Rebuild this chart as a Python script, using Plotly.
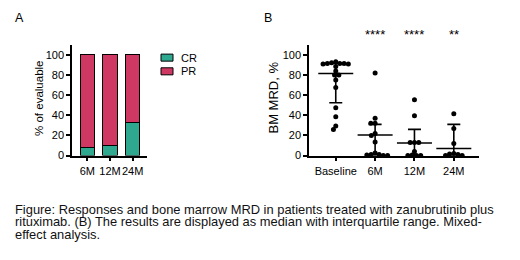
import plotly.graph_objects as go

# ---------------- data ----------------
# Panel A: response (% of evaluable)
timepoints_a = ["6M", "12M", "24M"]
cr_pct = [8, 10.5, 33]
pr_pct = [92, 89.5, 67]

# Panel B: BM MRD (%)
groups_b = ["Baseline", "6M", "12M", "24M"]
mrd_baseline = [93, 92, 91.5, 91.5, 91.5, 91, 91, 88.5, 84, 80, 80, 75, 67.5, 47.5, 38.5, 29.5, 26]
mrd_6m = [82, 37, 32, 32, 22, 20, 13.5, 2.5, 1, 1, 0.5, 0, 0]
mrd_12m = [55.5, 39.5, 13, 13, 13, 4, 0.5, 0, 0, 0]
mrd_24m = [41.5, 27, 12, 2, 1.5, 1, 0, 0]
median_b = [81.5, 20.5, 12.5, 7]
q1_b = [52.5, 0, 0, 0]
q3_b = [91.5, 31, 26, 31]
stars_b = ["", "****", "****", "**"]

yticks = [0, 20, 40, 60, 80, 100]

caption_lines = [
    "Figure: Responses and bone marrow MRD in patients treated with zanubrutinib plus",
    "rituximab. (B) The results are displayed as median with interquartile range. Mixed-",
    "effect analysis.",
]

# ---------------- layout geometry (px in a 520x260 canvas) ----------------
W, H = 520, 260
FONT = "Liberation Sans, Arial, sans-serif"
TEAL = "#2EA88F"
CRIMSON = "#CF3862"


def px(x):
    return x / W


def py(y):
    return 1 - y / H


plot_top, plot_bot = 46.3, 159.3
y_range = [0, 109.5]
a_left, a_right = 72, 147.3
b_left, b_right = 309, 479
a_xrange = [-0.68, 2.65]
b_xrange = [-0.68, 3.64]

ypx_per_unit = (plot_bot - plot_top) / (y_range[1] - y_range[0])
xpx_per_cat_b = (b_right - b_left) / (b_xrange[1] - b_xrange[0])


def swarm(values, d=4.3):
    """Simple beeswarm: returns horizontal offsets (px) so points don't overlap."""
    placed = []
    offs = []
    for v in values:
        y = v * ypx_per_unit
        cands = [0.0]
        for (qx, qy) in placed:
            dy = abs(y - qy)
            if dy < d:
                dx = (d * d - dy * dy) ** 0.5
                cands += [qx + dx, qx - dx]
        cands.sort(key=lambda c: (round(abs(c), 6), c))
        chosen = 0.0
        for c in cands:
            if all((c - qx) ** 2 + (y - qy) ** 2 >= d * d - 1e-6 for qx, qy in placed):
                chosen = c
                break
        placed.append((chosen, y))
        offs.append(chosen)
    return offs


fig = go.Figure()

# ---- Panel A: stacked bars ----
fig.add_trace(go.Bar(x=timepoints_a, y=cr_pct, name="CR", marker=dict(color=TEAL, line=dict(color="black", width=1)),
                     width=0.64, xaxis="x", yaxis="y", showlegend=False))
fig.add_trace(go.Bar(x=timepoints_a, y=pr_pct, name="PR", marker=dict(color=CRIMSON, line=dict(color="black", width=1)),
                     width=0.64, xaxis="x", yaxis="y", showlegend=False))

# ---- Panel B: swarm points ----
all_groups = [mrd_baseline, mrd_6m, mrd_12m, mrd_24m]
for gi, vals in enumerate(all_groups):
    offs = swarm(vals)
    xs = [gi + o / xpx_per_cat_b for o in offs]
    fig.add_trace(go.Scatter(x=xs, y=vals, mode="markers", marker=dict(color="black", size=5),
                             xaxis="x2", yaxis="y2", showlegend=False, cliponaxis=False, hoverinfo="y"))

# median + IQR
fig.add_trace(go.Scatter(
    x=list(range(len(groups_b))), y=median_b, mode="markers",
    marker=dict(symbol="line-ew", size=25, line=dict(color="black", width=1.6), color="black"),
    error_y=dict(type="data", symmetric=False,
                 array=[q3 - m for q3, m in zip(q3_b, median_b)],
                 arrayminus=[m - q1 for m, q1 in zip(median_b, q1_b)],
                 color="black", thickness=1.6, width=6.5),
    xaxis="x2", yaxis="y2", showlegend=False, cliponaxis=False))

axis_common = dict(showline=True, linecolor="black", linewidth=1.5, ticks="outside", ticklen=4, tickwidth=1.5,
                   tickcolor="black", showgrid=False, zeroline=False, tickangle=0,
                   tickfont=dict(family=FONT, size=11, color="black"))

annotations = []
# stars
for i, s in enumerate(stars_b):
    if s:
        annotations.append(dict(x=i, xref="x2", y=py(35), yref="paper", text=s, showarrow=False,
                                font=dict(family=FONT, size=13, color="black"), xanchor="center", yanchor="middle"))
# panel letters
annotations.append(dict(x=px(19), y=py(18), xref="paper", yref="paper", text="A", showarrow=False,
                        font=dict(family=FONT, size=12.5, color="black"), xanchor="center", yanchor="middle"))
annotations.append(dict(x=px(267.5), y=py(18), xref="paper", yref="paper", text="B", showarrow=False,
                        font=dict(family=FONT, size=12.5, color="black"), xanchor="center", yanchor="middle"))
# axis titles
annotations.append(dict(x=px(38.3), y=py(101), xref="paper", yref="paper", text="% of evaluable", textangle=-90,
                        showarrow=False, font=dict(family=FONT, size=11.5, color="black"),
                        xanchor="center", yanchor="middle"))
annotations.append(dict(x=px(273.3), y=py(99.5), xref="paper", yref="paper", text="BM MRD, %", textangle=-90,
                        showarrow=False, font=dict(family=FONT, size=13, color="black"),
                        xanchor="center", yanchor="middle"))
# legend (panel A)
legend_items = [("CR", TEAL, 59), ("PR", CRIMSON, 73)]
shapes = []
for name, col, yc in legend_items:
    shapes.append(dict(type="rect", xref="paper", yref="paper", x0=px(161), x1=px(173), y0=py(yc - 3.6), y1=py(yc + 3.6),
                       fillcolor=col, line=dict(color="black", width=1)))
    annotations.append(dict(x=px(178.5), y=py(yc), xref="paper", yref="paper", text=name, showarrow=False,
                            font=dict(family=FONT, size=11, color="black"), xanchor="left", yanchor="middle"))
# caption (tight leading as in the reference; one line per annotation)
for i, line in enumerate(caption_lines):
    annotations.append(dict(x=px(13.5), y=py(214.7 + 12.5 * i), xref="paper", yref="paper", text=line,
                            showarrow=False, font=dict(family=FONT, size=12.9, color="#111111"),
                            borderpad=0, xanchor="left", yanchor="middle"))

fig.update_layout(
    width=W, height=H, margin=dict(l=0, r=0, t=0, b=0),
    paper_bgcolor="white", plot_bgcolor="white", barmode="stack", bargap=0.3,
    xaxis=dict(domain=[px(a_left), px(a_right)], range=a_xrange, anchor="y", **axis_common),
    yaxis=dict(domain=[py(plot_bot), py(plot_top)], range=y_range, anchor="x", tickvals=yticks, **axis_common),
    xaxis2=dict(domain=[px(b_left), px(b_right)], range=b_xrange, anchor="y2", tickvals=list(range(len(groups_b))),
                ticktext=groups_b, **axis_common),
    yaxis2=dict(domain=[py(plot_bot), py(plot_top)], range=y_range, anchor="x2", tickvals=yticks, **axis_common),
    annotations=annotations, shapes=shapes, showlegend=False,
)

fig.write_html("out.html", config={"displayModeBar": False},
               post_script="document.body.style.margin='0px';")
